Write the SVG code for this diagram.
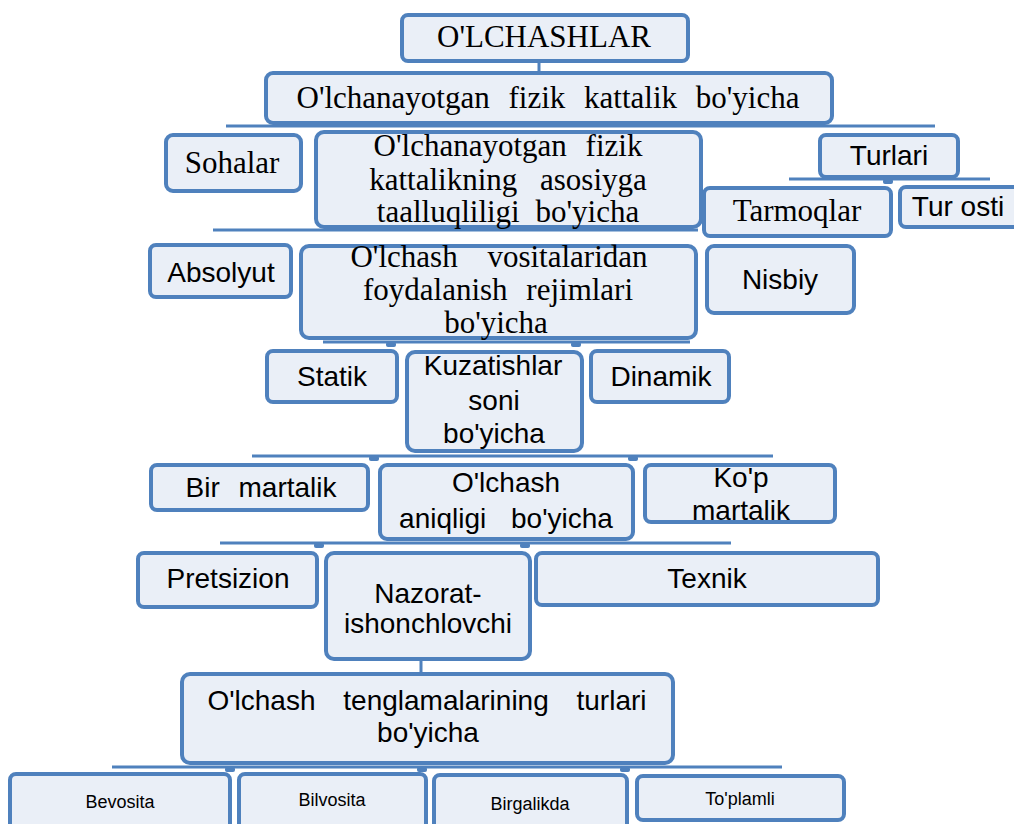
<svg xmlns="http://www.w3.org/2000/svg" width="1014" height="824" viewBox="0 0 1014 824">
<defs>
<style>
.box{fill:#eaeff7;stroke:#4f81bd;stroke-width:4}
.ln{stroke:#4f81bd;stroke-width:3;fill:none}
.bump{fill:#4f81bd}
.s{font-family:"Liberation Serif","Times New Roman",serif;font-size:31px;fill:#000;text-anchor:middle}
.a{font-family:"Liberation Sans",Arial,sans-serif;font-size:28px;fill:#000;text-anchor:middle}
.sm{font-family:"Liberation Sans",Arial,sans-serif;font-size:18px;fill:#000;text-anchor:middle}
</style>
</defs>
<rect width="1014" height="824" fill="#fff"/>
<g id="connectors">
<line class="ln" x1="539" y1="61" x2="539" y2="73"/>
<line class="ln" x1="226" y1="126" x2="935" y2="126"/>
<line class="ln" x1="789" y1="179" x2="990" y2="179"/>
<rect class="bump" x="883" y="179" width="10" height="5" rx="2"/>
<line class="ln" x1="213" y1="230" x2="698" y2="230"/>
<line class="ln" x1="323" y1="342" x2="690" y2="342"/>
<rect class="bump" x="386" y="342" width="10" height="5" rx="2"/>
<rect class="bump" x="571" y="342" width="10" height="5" rx="2"/>
<line class="ln" x1="252" y1="456" x2="773" y2="456"/>
<rect class="bump" x="369" y="456" width="10" height="5" rx="2"/>
<rect class="bump" x="628" y="456" width="10" height="5" rx="2"/>
<line class="ln" x1="220" y1="543" x2="731" y2="543"/>
<rect class="bump" x="314" y="543" width="10" height="5" rx="2"/>
<rect class="bump" x="520" y="543" width="10" height="5" rx="2"/>
<line class="ln" x1="421" y1="660" x2="421" y2="673"/>
<line class="ln" x1="112" y1="767" x2="782" y2="767"/>
<rect class="bump" x="225" y="767" width="10" height="5" rx="2"/>
<rect class="bump" x="417" y="767" width="10" height="5" rx="2"/>
<rect class="bump" x="620" y="767" width="10" height="5" rx="2"/>
</g>
<g id="n-olchashlar"><rect class="box" x="402" y="15" width="286" height="46" rx="6"/><text class="s" x="544" y="47">O'LCHASHLAR</text></g>
<g id="n-fizik"><rect class="box" x="266" y="73" width="566" height="50" rx="7"/><text class="s" x="548" y="108" word-spacing="11">O'lchanayotgan fizik kattalik bo'yicha</text></g>
<g id="n-sohalar"><rect class="box" x="166" y="135" width="135" height="56" rx="7"/><text class="s" x="232" y="173">Sohalar</text></g>
<g id="n-asosiy"><rect class="box" x="316" y="132" width="385" height="95" rx="8"/>
<text class="s" x="508" y="156" word-spacing="11">O'lchanayotgan fizik</text>
<text class="s" x="508" y="190" word-spacing="15">kattalikning asosiyga</text>
<text class="s" x="508" y="222" word-spacing="8">taalluqliligi bo'yicha</text></g>
<g id="n-turlari"><rect class="box" x="820" y="135" width="138" height="42" rx="6"/><text class="a" x="889" y="165">Turlari</text></g>
<g id="n-tarmoqlar"><rect class="box" x="704" y="188" width="187" height="48" rx="6"/><text class="s" x="797" y="221">Tarmoqlar</text></g>
<g id="n-turosti"><rect class="box" x="900" y="187" width="124" height="40" rx="6"/><text class="a" x="958" y="216">Tur osti</text></g>
<g id="n-absolyut"><rect class="box" x="150" y="245" width="141" height="52" rx="6"/><text class="a" x="221" y="282">Absolyut</text></g>
<g id="n-vosita"><rect class="box" x="301" y="246" width="395" height="92" rx="8"/>
<text class="s" x="499" y="267" word-spacing="22">O'lchash vositalaridan</text>
<text class="s" x="498" y="300" word-spacing="11">foydalanish rejimlari</text>
<text class="s" x="496" y="333">bo'yicha</text></g>
<g id="n-nisbiy"><rect class="box" x="707" y="246" width="147" height="67" rx="7"/><text class="a" x="780" y="289">Nisbiy</text></g>
<g id="n-statik"><rect class="box" x="267" y="351" width="130" height="51" rx="6"/><text class="a" x="332" y="386">Statik</text></g>
<g id="n-kuzatish"><rect class="box" x="407" y="352" width="175" height="99" rx="8"/>
<text class="a" x="493" y="375">Kuzatishlar</text>
<text class="a" x="494" y="410">soni</text>
<text class="a" x="494" y="443">bo'yicha</text></g>
<g id="n-dinamik"><rect class="box" x="591" y="351" width="138" height="51" rx="6"/><text class="a" x="661" y="386">Dinamik</text></g>
<g id="n-bir"><rect class="box" x="151" y="465" width="217" height="45" rx="6"/><text class="a" x="261" y="497" word-spacing="11">Bir martalik</text></g>
<g id="n-aniqlik"><rect class="box" x="380" y="465" width="253" height="74" rx="7"/>
<text class="a" x="506" y="492">O'lchash</text>
<text class="a" x="506" y="528" word-spacing="17">aniqligi bo'yicha</text></g>
<g id="n-kop"><rect class="box" x="645" y="465" width="190" height="57" rx="6"/>
<text class="a" x="741" y="487">Ko'p</text>
<text class="a" x="741" y="520">martalik</text></g>
<g id="n-pretsizion"><rect class="box" x="138" y="553" width="179" height="54" rx="6"/><text class="a" x="228" y="588">Pretsizion</text></g>
<g id="n-nazorat"><rect class="box" x="326" y="553" width="204" height="106" rx="8"/>
<text class="a" x="428" y="603">Nazorat-</text>
<text class="a" x="428" y="633">ishonchlovchi</text></g>
<g id="n-texnik"><rect class="box" x="536" y="553" width="342" height="52" rx="6"/><text class="a" x="707" y="588">Texnik</text></g>
<g id="n-tenglama"><rect class="box" x="182" y="674" width="491" height="89" rx="8"/>
<text class="a" x="427" y="710" word-spacing="20">O'lchash tenglamalarining turlari</text>
<text class="a" x="428" y="742">bo'yicha</text></g>
<g id="n-bevosita"><rect class="box" x="10" y="774" width="220" height="60" rx="6"/><text class="sm" x="120" y="808">Bevosita</text></g>
<g id="n-bilvosita"><rect class="box" x="239" y="774" width="187" height="60" rx="6"/><text class="sm" x="332" y="806">Bilvosita</text></g>
<g id="n-birgalikda"><rect class="box" x="434" y="775" width="193" height="60" rx="6"/><text class="sm" x="530" y="810">Birgalikda</text></g>
<g id="n-toplamli"><rect class="box" x="637" y="776" width="207" height="44" rx="6"/><text class="sm" x="740" y="805">To'plamli</text></g>
</svg>
